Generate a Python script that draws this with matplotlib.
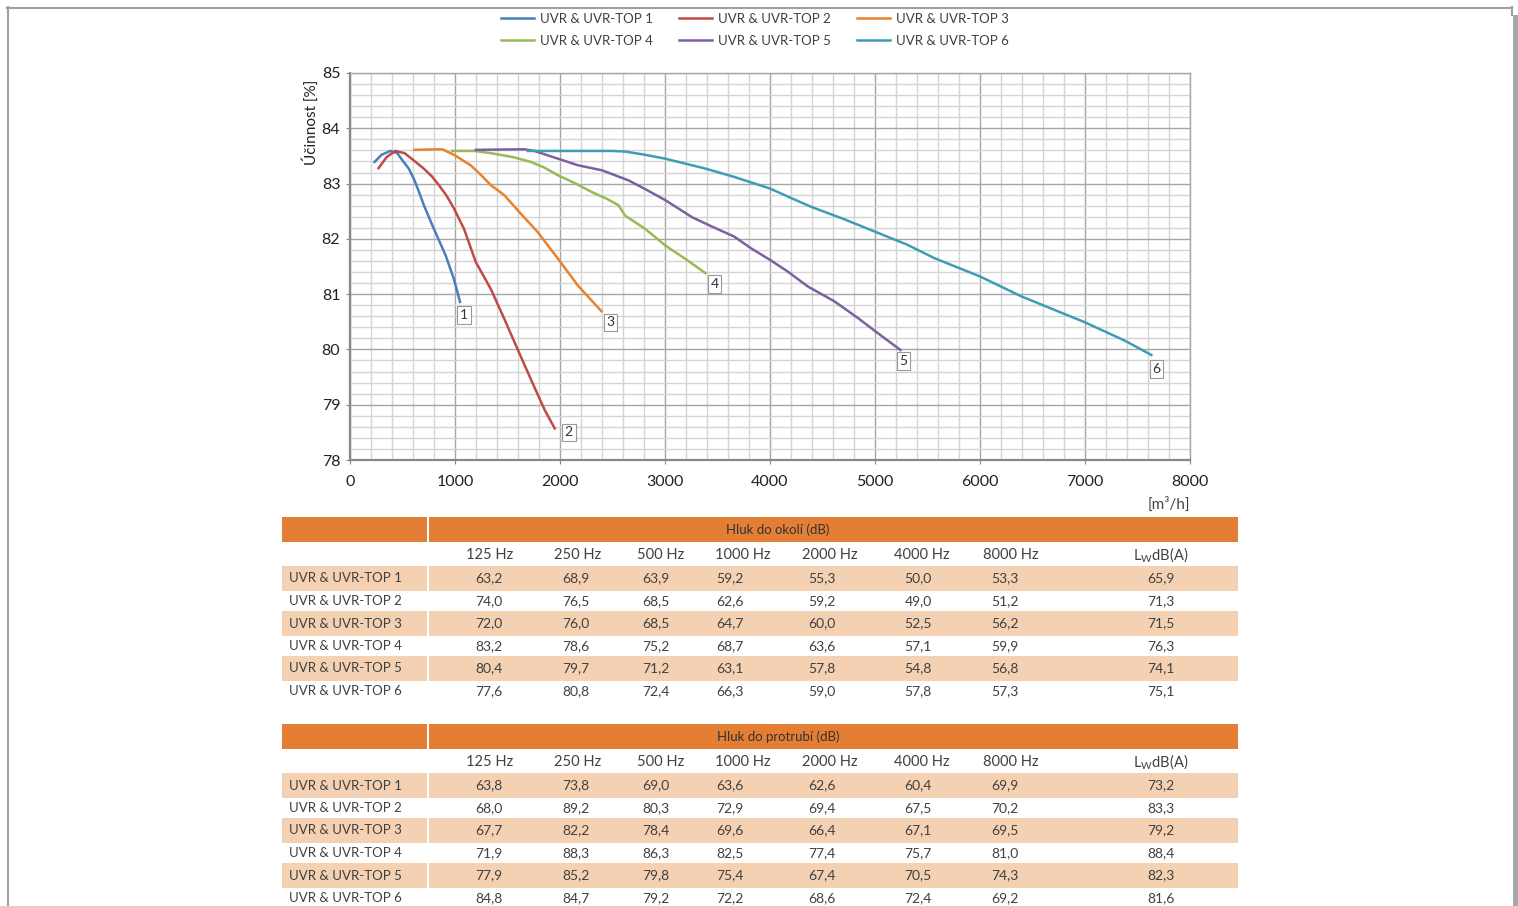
import matplotlib
matplotlib.use("Agg")
import matplotlib.pyplot as plt
from matplotlib.patches import Rectangle
from matplotlib.lines import Line2D

# efficiency curves: airflow [m3/h] vs efficiency [%]
x1 = [233, 300, 383, 450, 511, 560, 607, 655, 703, 799, 911, 990, 1048]
y1 = [83.39, 83.52, 83.59, 83.55, 83.39, 83.27, 83.09, 82.86, 82.61, 82.18, 81.70, 81.27, 80.86]

x2 = [272, 350, 431, 520, 607, 703, 780, 847, 920, 990, 1086, 1198, 1342, 1470, 1597, 1725, 1853, 1950]
y2 = [83.28, 83.48, 83.59, 83.55, 83.42, 83.27, 83.13, 82.97, 82.78, 82.55, 82.18, 81.58, 81.09, 80.55, 80.00, 79.45, 78.91, 78.57]

x3 = [613, 831, 879, 990, 1150, 1250, 1342, 1470, 1629, 1789, 1981, 2173, 2395]
y3 = [83.61, 83.62, 83.62, 83.52, 83.33, 83.15, 82.97, 82.79, 82.45, 82.12, 81.64, 81.15, 80.69]

x4 = [974, 1182, 1342, 1550, 1725, 1850, 1981, 2150, 2300, 2450, 2556, 2620, 2812, 3003, 3200, 3385]
y4 = [83.59, 83.59, 83.55, 83.48, 83.39, 83.29, 83.15, 83.00, 82.85, 82.72, 82.61, 82.42, 82.18, 81.88, 81.63, 81.38]

x5 = [1198, 1661, 1757, 1981, 2173, 2400, 2650, 2812, 3003, 3259, 3450, 3660, 3819, 4000, 4168, 4359, 4613, 4836, 4995, 5242]
y5 = [83.61, 83.62, 83.59, 83.45, 83.33, 83.24, 83.06, 82.90, 82.70, 82.39, 82.22, 82.04, 81.83, 81.62, 81.41, 81.14, 80.87, 80.57, 80.34, 79.99]

x6 = [1694, 2492, 2620, 2812, 3003, 3195, 3387, 3660, 4000, 4200, 4391, 4700, 5000, 5300, 5567, 6000, 6393, 7000, 7378, 7632]
y6 = [83.59, 83.59, 83.58, 83.52, 83.45, 83.36, 83.27, 83.12, 82.91, 82.74, 82.58, 82.36, 82.13, 81.90, 81.65, 81.32, 80.96, 80.49, 80.16, 79.90]

series_names = ["UVR & UVR-TOP 1", "UVR & UVR-TOP 2", "UVR & UVR-TOP 3",
                "UVR & UVR-TOP 4", "UVR & UVR-TOP 5", "UVR & UVR-TOP 6"]
curve_labels = ["1", "2", "3", "4", "5", "6"]
colors = ["#4A7EBB", "#BE4B48", "#E8822E", "#98B954", "#7D60A0", "#3E9DB5"]
label_offsets = [(4, -13), (14, -4), (9, -11), (9, -11), (3, -11), (5, -14)]  # pixels

# noise tables
freqs = ["125 Hz", "250 Hz", "500 Hz", "1000 Hz", "2000 Hz", "4000 Hz", "8000 Hz"]
noise_out = [
    ["63,2", "68,9", "63,9", "59,2", "55,3", "50,0", "53,3", "65,9"],
    ["74,0", "76,5", "68,5", "62,6", "59,2", "49,0", "51,2", "71,3"],
    ["72,0", "76,0", "68,5", "64,7", "60,0", "52,5", "56,2", "71,5"],
    ["83,2", "78,6", "75,2", "68,7", "63,6", "57,1", "59,9", "76,3"],
    ["80,4", "79,7", "71,2", "63,1", "57,8", "54,8", "56,8", "74,1"],
    ["77,6", "80,8", "72,4", "66,3", "59,0", "57,8", "57,3", "75,1"],
]
noise_duct = [
    ["63,8", "73,8", "69,0", "63,6", "62,6", "60,4", "69,9", "73,2"],
    ["68,0", "89,2", "80,3", "72,9", "69,4", "67,5", "70,2", "83,3"],
    ["67,7", "82,2", "78,4", "69,6", "66,4", "67,1", "69,5", "79,2"],
    ["71,9", "88,3", "86,3", "82,5", "77,4", "75,7", "81,0", "88,4"],
    ["77,9", "85,2", "79,8", "75,4", "67,4", "70,5", "74,3", "82,3"],
    ["84,8", "84,7", "79,2", "72,2", "68,6", "72,4", "69,2", "81,6"],
]

W, H = 1518, 906
FONT = ["Lato", "DejaVu Sans"]
ORANGE = "#E37E34"
PEACH = "#F4D1B3"
TXT = "#404040"

fig = plt.figure(figsize=(W / 100, H / 100), dpi=100)
fig.patch.set_facecolor("white")

# page overlay in pixel coordinates (frame + tables)
page = fig.add_axes([0, 0, 1, 1])
page.set_xlim(0, W)
page.set_ylim(H, 0)
page.axis("off")
page.add_line(Line2D([7, 1512], [7.5, 7.5], color="#A0A0A0", lw=1.5))
page.add_line(Line2D([7.5, 7.5], [7, H], color="#A0A0A0", lw=1.5))
page.add_line(Line2D([1512, 1512], [7, 15], color="#A0A0A0", lw=1.5))
page.add_patch(Rectangle((1513, 15), 5, H - 15, color="#A8A8A8", lw=0))

# chart
ax = fig.add_axes([350 / W, 1 - 460 / H, 840 / W, (460 - 73) / H])
xs = [x1, x2, x3, x4, x5, x6]
ys = [y1, y2, y3, y4, y5, y6]
lines = []
for i in range(6):
    ln, = ax.plot(xs[i], ys[i], color=colors[i], lw=1.8, label=series_names[i],
                  zorder=3, solid_joinstyle="round")
    lines.append(ln)
    ax.annotate(curve_labels[i], (xs[i][-1], ys[i][-1]), xytext=label_offsets[i],
                textcoords="offset pixels", ha="center", va="center",
                fontsize=10, family=FONT, color="#333333", zorder=4,
                bbox=dict(boxstyle="square,pad=0.2", fc="white", ec="#999999", lw=0.8))

ax.set_xlim(0, 8000)
ax.set_ylim(78, 85)
ax.set_xticks(range(0, 8001, 1000))
ax.set_xticks(range(0, 8001, 200), minor=True)
ax.set_yticks(range(78, 86))
ax.set_yticks([78 + 0.2 * k for k in range(36)], minor=True)
ax.grid(which="major", color="#A6A6A6", lw=1.0)
ax.grid(which="minor", color="#D4D4D4", lw=1.0)
ax.set_axisbelow(True)
for s in ["top", "right"]:
    ax.spines[s].set_color("#A6A6A6")
    ax.spines[s].set_linewidth(1.0)
for s in ["left", "bottom"]:
    ax.spines[s].set_color("#888888")
    ax.spines[s].set_linewidth(1.6)
ax.tick_params(axis="x", which="major", length=3, color="#888888", pad=8,
               labelsize=11.5, labelcolor="#222222")
ax.tick_params(axis="y", which="major", length=3, color="#888888", pad=4,
               labelsize=11.5, labelcolor="#222222")
ax.tick_params(which="minor", length=0)
for lab in ax.get_xticklabels() + ax.get_yticklabels():
    lab.set_family(FONT)

fig.text(311 / W, 1 - 122 / H, "Účinnost [%]", rotation=90, ha="center", va="center",
         fontsize=11, family=FONT, color="#222222")
fig.text(1190 / W, 1 - 504 / H, "[m³/h]", ha="right", va="center",
         fontsize=11, family=FONT, color="#444444")

# legend: 2 rows x 3 columns, row-major order
order = [0, 3, 1, 4, 2, 5]
fig.legend([lines[k] for k in order], [series_names[k] for k in order],
           loc="upper left", bbox_to_anchor=(501 / W, 1 - 13 / H), ncol=3,
           frameon=False, borderpad=0, borderaxespad=0, handlelength=2.5,
           handletextpad=0.45, columnspacing=2.0, labelspacing=0.75,
           prop={"family": FONT, "size": 9.5}, labelcolor="#404040")

# tables
val_x = [489, 576, 656, 730, 822, 918, 1005, 1161]
head_x = [490, 578, 661, 743, 830, 922, 1011]


def draw_table(top, title, rows):
    page.add_patch(Rectangle((282, top), 145, 25, color=ORANGE, lw=0))
    page.add_patch(Rectangle((429, top), 809, 25, color=ORANGE, lw=0))
    page.text(778, top + 13, title, ha="center", va="center", fontsize=9.5,
              family=FONT, color="#333333")
    fy = top + 38
    for f, hx in zip(freqs, head_x):
        page.text(hx, fy, f, ha="center", va="center", fontsize=10.5,
                  family=FONT, color=TXT)
    page.text(1161, fy, r"L$_\mathregular{W}$dB(A)", ha="center", va="center",
              fontsize=10.5, family=FONT, color=TXT)
    for i, row in enumerate(rows):
        cy = top + 61.5 + i * 22.5
        if i % 2 == 0:
            page.add_patch(Rectangle((282, cy - 12.5), 145, 25, color=PEACH, lw=0))
            page.add_patch(Rectangle((429, cy - 12.5), 809, 25, color=PEACH, lw=0))
        page.text(289, cy, series_names[i], ha="left", va="center", fontsize=9.5,
                  family=FONT, color=TXT)
        for v, vx in zip(row, val_x):
            page.text(vx, cy, v, ha="center", va="center", fontsize=10,
                      family=FONT, color=TXT)


draw_table(517, "Hluk do okolí (dB)", noise_out)
draw_table(724, "Hluk do protrubí (dB)", noise_duct)

fig.savefig("out.png", dpi=100)
